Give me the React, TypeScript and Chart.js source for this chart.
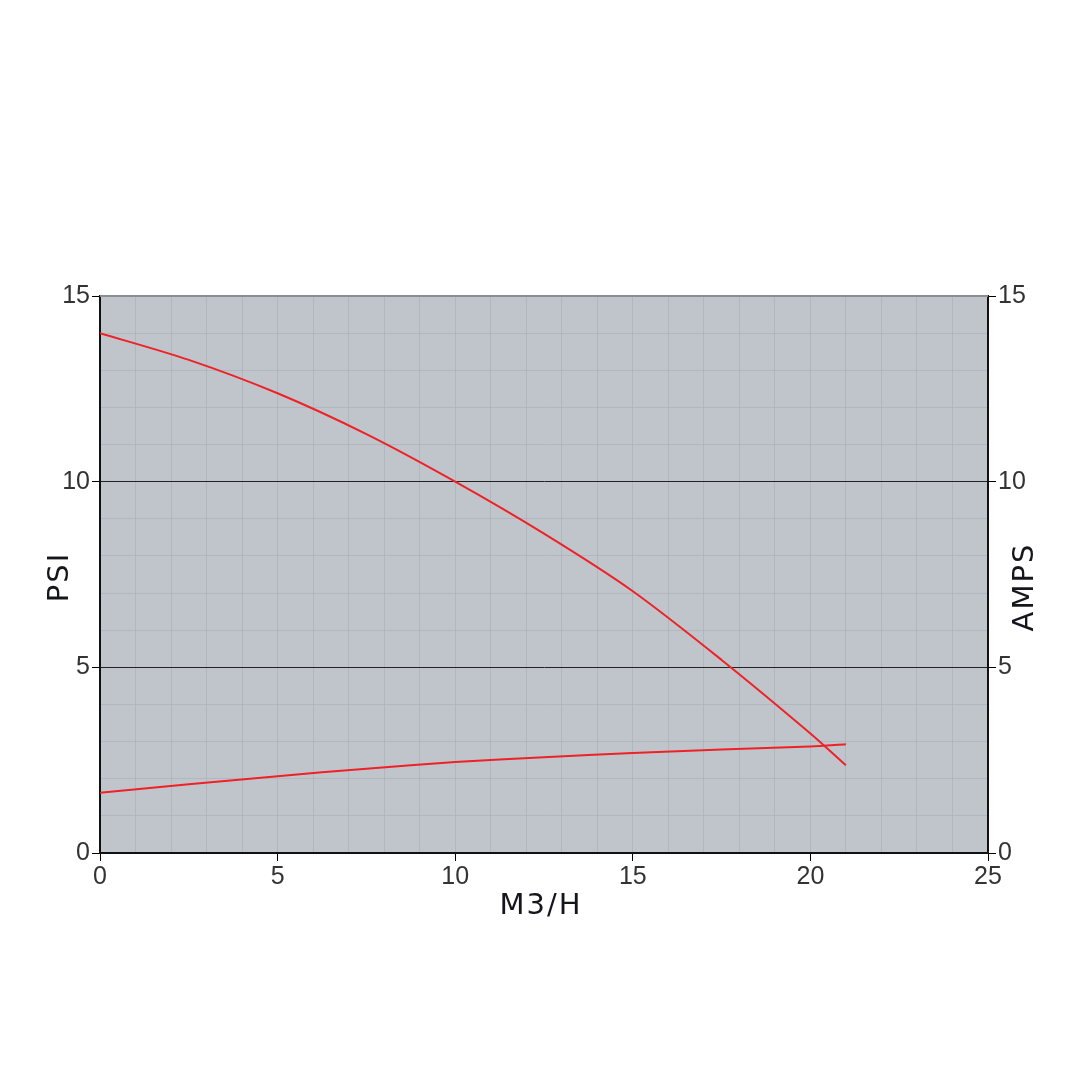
import React, { useEffect, useRef } from "react";
import { Chart, registerables } from "chart.js";

Chart.register(...registerables);

const flows = [0, 2.5, 5, 7.5, 10, 12.5, 15, 17.5, 20, 21];
const psi = [14.0, 13.28, 12.38, 11.28, 10.0, 8.6, 7.05, 5.2, 3.22, 2.36];
const amps = [1.62, 1.85, 2.07, 2.27, 2.45, 2.58, 2.69, 2.79, 2.87, 2.93];
const xTitle = "M3/H";
const yTitle = "PSI";
const y2Title = "AMPS";

const TITLE_FONT = "29px 'DejaVu Sans', sans-serif";
const SPACING = 2;

function drawSpaced(ctx: any, text: string, cx: number, cy: number, rot: number) {
  ctx.save();
  ctx.translate(cx, cy);
  ctx.rotate(rot);
  ctx.font = TITLE_FONT;
  ctx.fillStyle = "#15151c";
  ctx.textBaseline = "middle";
  ctx.textAlign = "left";
  const chars = Array.from(text);
  const widths = chars.map((ch) => ctx.measureText(ch).width);
  const total = widths.reduce((a, b) => a + b, 0) + SPACING * (chars.length - 1);
  let x = -total / 2;
  chars.forEach((ch, i) => {
    ctx.fillText(ch, x, 0);
    x += widths[i] + SPACING;
  });
  ctx.restore();
}

const bgPlugin = {
  id: "plotBg",
  beforeDraw(chart: any) {
    const { ctx, chartArea } = chart;
    ctx.save();
    ctx.fillStyle = "#c0c5cc";
    ctx.fillRect(chartArea.left, chartArea.top, chartArea.right - chartArea.left, chartArea.bottom - chartArea.top);
    ctx.restore();
  },
  afterDraw(chart: any) {
    const { ctx, chartArea } = chart;
    ctx.save();
    ctx.strokeStyle = "#8a8d92";
    ctx.lineWidth = 2;
    ctx.beginPath();
    ctx.moveTo(chartArea.left, chartArea.top);
    ctx.lineTo(chartArea.right, chartArea.top);
    ctx.stroke();
    ctx.restore();
    drawSpaced(ctx, xTitle, 540, 906, 0);
    drawSpaced(ctx, yTitle, 60, 578, -Math.PI / 2);
    drawSpaced(ctx, y2Title, 1025, 588, -Math.PI / 2);
  },
};

export default function App() {
  const ref = useRef<HTMLCanvasElement>(null);
  useEffect(() => {
    const tickFont = { family: "'Liberation Sans', Arial, sans-serif", size: 25 };
    const minor = "rgba(172,177,185,0.7)";
    const gridColor = (c: any) => {
      const v = c.tick?.value;
      if (v === 5 || v === 10) return "#222";
      return minor;
    };
    const tickColor = (c: any) => (c.tick && c.tick.value % 5 === 0 ? "#000" : "rgba(0,0,0,0)");
    const chart = new Chart(ref.current!, {
      type: "scatter",
      data: {
        datasets: [
          {
            label: "PSI",
            data: flows.map((x, i) => ({ x, y: psi[i] })),
            showLine: true,
            borderColor: "#ee2226",
            borderWidth: 2,
            pointRadius: 0,
            tension: 0.3,
            yAxisID: "y",
          },
          {
            label: "AMPS",
            data: flows.map((x, i) => ({ x, y: amps[i] })),
            showLine: true,
            borderColor: "#ee2226",
            borderWidth: 2,
            pointRadius: 0,
            tension: 0.3,
            yAxisID: "y1",
          },
        ],
      },
      options: {
        animation: false,
        responsive: false,
        maintainAspectRatio: false,
        layout: { padding: { left: 45, right: 40, top: 296, bottom: 158 } },
        plugins: { legend: { display: false }, tooltip: { enabled: false } },
        scales: {
          x: {
            type: "linear",
            min: 0,
            max: 25,
            afterFit: (s: any) => { s.height = 69; },
            ticks: {
              stepSize: 1,
              autoSkip: false,
              maxRotation: 0,
              color: "#333",
              font: tickFont,
              padding: 1,
              callback: (v: any) => (v % 5 === 0 ? String(v) : ""),
            },
            grid: { color: minor, tickColor, tickLength: 8, lineWidth: 1 },
            border: { color: "#111", width: 2 },
            title: { display: false },
          },
          y: {
            type: "linear",
            position: "left",
            min: 0,
            max: 15,
            afterFit: (s: any) => { s.width = 55; },
            ticks: {
              stepSize: 1,
              autoSkip: false,
              color: "#333",
              font: tickFont,
              padding: 2,
              callback: (v: any) => (v % 5 === 0 ? String(v) : ""),
            },
            grid: { color: gridColor, tickColor, tickLength: 8, lineWidth: 1 },
            border: { color: "#111", width: 2 },
            title: { display: false },
          },
          y1: {
            type: "linear",
            position: "right",
            min: 0,
            max: 15,
            afterFit: (s: any) => { s.width = 52; },
            ticks: {
              stepSize: 1,
              autoSkip: false,
              color: "#333",
              font: tickFont,
              padding: 2,
              callback: (v: any) => (v % 5 === 0 ? String(v) : ""),
            },
            grid: { drawOnChartArea: false, tickColor, tickLength: 8 },
            border: { color: "#111", width: 2 },
            title: { display: false },
          },
        },
      },
      plugins: [bgPlugin],
    } as any);
    return () => chart.destroy();
  }, []);
  return (
    <div style={{ position: "fixed", left: 0, top: 0, width: 1080, height: 1080, background: "#fff" }}>
      <canvas ref={ref} width={1080} height={1080} style={{ display: "block" }} />
    </div>
  );
}
